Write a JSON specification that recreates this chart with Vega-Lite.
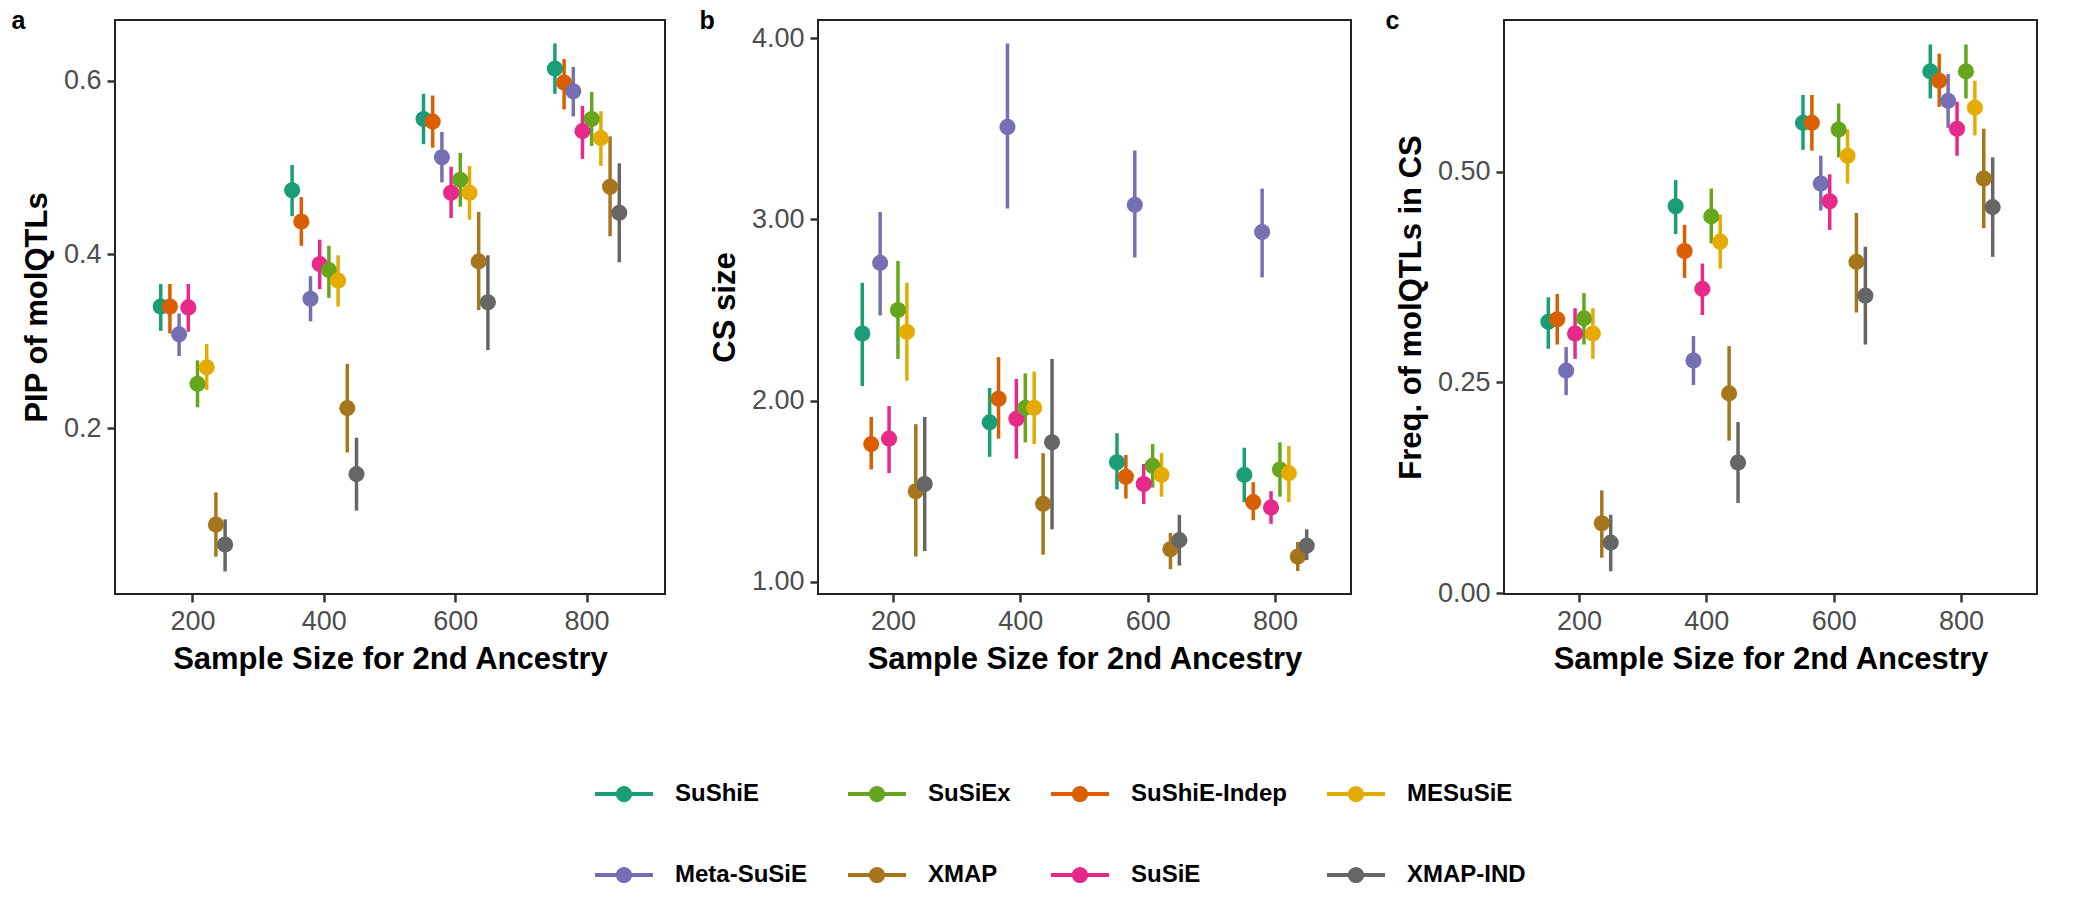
{
  "$schema": "https://vega.github.io/schema/vega-lite/v6.json",
  "background": "white",
  "padding": {"left": 10, "top": 8, "right": 5, "bottom": 5},
  "datasets": {
    "res": [
      {"panel": "a", "n": 200, "method": "SuShiE", "mean": 0.340, "lo": 0.312, "hi": 0.366},
      {"panel": "a", "n": 200, "method": "SuShiE-Indep", "mean": 0.340, "lo": 0.309, "hi": 0.366},
      {"panel": "a", "n": 200, "method": "Meta-SuSiE", "mean": 0.308, "lo": 0.283, "hi": 0.332},
      {"panel": "a", "n": 200, "method": "SuSiE", "mean": 0.339, "lo": 0.311, "hi": 0.366},
      {"panel": "a", "n": 200, "method": "SuSiEx", "mean": 0.251, "lo": 0.224, "hi": 0.278},
      {"panel": "a", "n": 200, "method": "MESuSiE", "mean": 0.270, "lo": 0.244, "hi": 0.297},
      {"panel": "a", "n": 200, "method": "XMAP", "mean": 0.089, "lo": 0.052, "hi": 0.126},
      {"panel": "a", "n": 200, "method": "XMAP-IND", "mean": 0.066, "lo": 0.035, "hi": 0.095},
      {"panel": "a", "n": 400, "method": "SuShiE", "mean": 0.474, "lo": 0.444, "hi": 0.503},
      {"panel": "a", "n": 400, "method": "SuShiE-Indep", "mean": 0.438, "lo": 0.410, "hi": 0.466},
      {"panel": "a", "n": 400, "method": "Meta-SuSiE", "mean": 0.349, "lo": 0.323, "hi": 0.375},
      {"panel": "a", "n": 400, "method": "SuSiE", "mean": 0.389, "lo": 0.360, "hi": 0.417},
      {"panel": "a", "n": 400, "method": "SuSiEx", "mean": 0.382, "lo": 0.350, "hi": 0.410},
      {"panel": "a", "n": 400, "method": "MESuSiE", "mean": 0.370, "lo": 0.340, "hi": 0.399},
      {"panel": "a", "n": 400, "method": "XMAP", "mean": 0.223, "lo": 0.172, "hi": 0.274},
      {"panel": "a", "n": 400, "method": "XMAP-IND", "mean": 0.147, "lo": 0.105, "hi": 0.189},
      {"panel": "a", "n": 600, "method": "SuShiE", "mean": 0.556, "lo": 0.527, "hi": 0.585},
      {"panel": "a", "n": 600, "method": "SuShiE-Indep", "mean": 0.553, "lo": 0.523, "hi": 0.583},
      {"panel": "a", "n": 600, "method": "Meta-SuSiE", "mean": 0.512, "lo": 0.483, "hi": 0.541},
      {"panel": "a", "n": 600, "method": "SuSiE", "mean": 0.471, "lo": 0.442, "hi": 0.501},
      {"panel": "a", "n": 600, "method": "SuSiEx", "mean": 0.486, "lo": 0.455, "hi": 0.517},
      {"panel": "a", "n": 600, "method": "MESuSiE", "mean": 0.471, "lo": 0.440, "hi": 0.502},
      {"panel": "a", "n": 600, "method": "XMAP", "mean": 0.392, "lo": 0.336, "hi": 0.449},
      {"panel": "a", "n": 600, "method": "XMAP-IND", "mean": 0.345, "lo": 0.290, "hi": 0.399},
      {"panel": "a", "n": 800, "method": "SuShiE", "mean": 0.614, "lo": 0.585, "hi": 0.643},
      {"panel": "a", "n": 800, "method": "SuShiE-Indep", "mean": 0.598, "lo": 0.567, "hi": 0.625},
      {"panel": "a", "n": 800, "method": "Meta-SuSiE", "mean": 0.588, "lo": 0.559, "hi": 0.616},
      {"panel": "a", "n": 800, "method": "SuSiE", "mean": 0.542, "lo": 0.510, "hi": 0.571},
      {"panel": "a", "n": 800, "method": "SuSiEx", "mean": 0.556, "lo": 0.525, "hi": 0.587},
      {"panel": "a", "n": 800, "method": "MESuSiE", "mean": 0.534, "lo": 0.502, "hi": 0.565},
      {"panel": "a", "n": 800, "method": "XMAP", "mean": 0.478, "lo": 0.421, "hi": 0.536},
      {"panel": "a", "n": 800, "method": "XMAP-IND", "mean": 0.448, "lo": 0.391, "hi": 0.505},
      {"panel": "b", "n": 200, "method": "SuShiE", "mean": 2.37, "lo": 2.08, "hi": 2.65},
      {"panel": "b", "n": 200, "method": "SuShiE-Indep", "mean": 1.76, "lo": 1.62, "hi": 1.91},
      {"panel": "b", "n": 200, "method": "Meta-SuSiE", "mean": 2.76, "lo": 2.47, "hi": 3.04},
      {"panel": "b", "n": 200, "method": "SuSiE", "mean": 1.79, "lo": 1.60, "hi": 1.97},
      {"panel": "b", "n": 200, "method": "SuSiEx", "mean": 2.50, "lo": 2.23, "hi": 2.77},
      {"panel": "b", "n": 200, "method": "MESuSiE", "mean": 2.38, "lo": 2.11, "hi": 2.65},
      {"panel": "b", "n": 200, "method": "XMAP", "mean": 1.50, "lo": 1.14, "hi": 1.87},
      {"panel": "b", "n": 200, "method": "XMAP-IND", "mean": 1.54, "lo": 1.17, "hi": 1.91},
      {"panel": "b", "n": 400, "method": "SuShiE", "mean": 1.88, "lo": 1.69, "hi": 2.07},
      {"panel": "b", "n": 400, "method": "SuShiE-Indep", "mean": 2.01, "lo": 1.79, "hi": 2.24},
      {"panel": "b", "n": 400, "method": "Meta-SuSiE", "mean": 3.51, "lo": 3.06, "hi": 3.97},
      {"panel": "b", "n": 400, "method": "SuSiE", "mean": 1.90, "lo": 1.68, "hi": 2.12},
      {"panel": "b", "n": 400, "method": "SuSiEx", "mean": 1.96, "lo": 1.77, "hi": 2.15},
      {"panel": "b", "n": 400, "method": "MESuSiE", "mean": 1.96, "lo": 1.76, "hi": 2.16},
      {"panel": "b", "n": 400, "method": "XMAP", "mean": 1.43, "lo": 1.15, "hi": 1.71},
      {"panel": "b", "n": 400, "method": "XMAP-IND", "mean": 1.77, "lo": 1.29, "hi": 2.23},
      {"panel": "b", "n": 600, "method": "SuShiE", "mean": 1.66, "lo": 1.51, "hi": 1.82},
      {"panel": "b", "n": 600, "method": "SuShiE-Indep", "mean": 1.58, "lo": 1.46, "hi": 1.70},
      {"panel": "b", "n": 600, "method": "Meta-SuSiE", "mean": 3.08, "lo": 2.79, "hi": 3.38},
      {"panel": "b", "n": 600, "method": "SuSiE", "mean": 1.54, "lo": 1.43, "hi": 1.65},
      {"panel": "b", "n": 600, "method": "SuSiEx", "mean": 1.64, "lo": 1.52, "hi": 1.76},
      {"panel": "b", "n": 600, "method": "MESuSiE", "mean": 1.59, "lo": 1.47, "hi": 1.71},
      {"panel": "b", "n": 600, "method": "XMAP", "mean": 1.18, "lo": 1.07, "hi": 1.27},
      {"panel": "b", "n": 600, "method": "XMAP-IND", "mean": 1.23, "lo": 1.09, "hi": 1.37},
      {"panel": "b", "n": 800, "method": "SuShiE", "mean": 1.59, "lo": 1.44, "hi": 1.74},
      {"panel": "b", "n": 800, "method": "SuShiE-Indep", "mean": 1.44, "lo": 1.34, "hi": 1.55},
      {"panel": "b", "n": 800, "method": "Meta-SuSiE", "mean": 2.93, "lo": 2.68, "hi": 3.17},
      {"panel": "b", "n": 800, "method": "SuSiE", "mean": 1.41, "lo": 1.32, "hi": 1.50},
      {"panel": "b", "n": 800, "method": "SuSiEx", "mean": 1.62, "lo": 1.47, "hi": 1.77},
      {"panel": "b", "n": 800, "method": "MESuSiE", "mean": 1.60, "lo": 1.44, "hi": 1.75},
      {"panel": "b", "n": 800, "method": "XMAP", "mean": 1.14, "lo": 1.06, "hi": 1.22},
      {"panel": "b", "n": 800, "method": "XMAP-IND", "mean": 1.20, "lo": 1.12, "hi": 1.29},
      {"panel": "c", "n": 200, "method": "SuShiE", "mean": 0.322, "lo": 0.290, "hi": 0.351},
      {"panel": "c", "n": 200, "method": "SuShiE-Indep", "mean": 0.325, "lo": 0.295, "hi": 0.355},
      {"panel": "c", "n": 200, "method": "Meta-SuSiE", "mean": 0.264, "lo": 0.235, "hi": 0.292},
      {"panel": "c", "n": 200, "method": "SuSiE", "mean": 0.308, "lo": 0.278, "hi": 0.338},
      {"panel": "c", "n": 200, "method": "SuSiEx", "mean": 0.326, "lo": 0.295, "hi": 0.356},
      {"panel": "c", "n": 200, "method": "MESuSiE", "mean": 0.308, "lo": 0.278, "hi": 0.338},
      {"panel": "c", "n": 200, "method": "XMAP", "mean": 0.083, "lo": 0.042, "hi": 0.122},
      {"panel": "c", "n": 200, "method": "XMAP-IND", "mean": 0.060, "lo": 0.026, "hi": 0.093},
      {"panel": "c", "n": 400, "method": "SuShiE", "mean": 0.459, "lo": 0.426, "hi": 0.490},
      {"panel": "c", "n": 400, "method": "SuShiE-Indep", "mean": 0.406, "lo": 0.374, "hi": 0.437},
      {"panel": "c", "n": 400, "method": "Meta-SuSiE", "mean": 0.276, "lo": 0.247, "hi": 0.305},
      {"panel": "c", "n": 400, "method": "SuSiE", "mean": 0.361, "lo": 0.330, "hi": 0.391},
      {"panel": "c", "n": 400, "method": "SuSiEx", "mean": 0.447, "lo": 0.415, "hi": 0.480},
      {"panel": "c", "n": 400, "method": "MESuSiE", "mean": 0.417, "lo": 0.385, "hi": 0.449},
      {"panel": "c", "n": 400, "method": "XMAP", "mean": 0.237, "lo": 0.181, "hi": 0.293},
      {"panel": "c", "n": 400, "method": "XMAP-IND", "mean": 0.155, "lo": 0.107, "hi": 0.203},
      {"panel": "c", "n": 600, "method": "SuShiE", "mean": 0.558, "lo": 0.526, "hi": 0.591},
      {"panel": "c", "n": 600, "method": "SuShiE-Indep", "mean": 0.558, "lo": 0.525, "hi": 0.591},
      {"panel": "c", "n": 600, "method": "Meta-SuSiE", "mean": 0.486, "lo": 0.454, "hi": 0.519},
      {"panel": "c", "n": 600, "method": "SuSiE", "mean": 0.465, "lo": 0.431, "hi": 0.497},
      {"panel": "c", "n": 600, "method": "SuSiEx", "mean": 0.550, "lo": 0.517, "hi": 0.581},
      {"panel": "c", "n": 600, "method": "MESuSiE", "mean": 0.519, "lo": 0.486, "hi": 0.550},
      {"panel": "c", "n": 600, "method": "XMAP", "mean": 0.393, "lo": 0.333, "hi": 0.451},
      {"panel": "c", "n": 600, "method": "XMAP-IND", "mean": 0.353, "lo": 0.295, "hi": 0.411},
      {"panel": "c", "n": 800, "method": "SuShiE", "mean": 0.619, "lo": 0.587, "hi": 0.651},
      {"panel": "c", "n": 800, "method": "SuShiE-Indep", "mean": 0.608, "lo": 0.577, "hi": 0.640},
      {"panel": "c", "n": 800, "method": "Meta-SuSiE", "mean": 0.584, "lo": 0.552, "hi": 0.616},
      {"panel": "c", "n": 800, "method": "SuSiE", "mean": 0.551, "lo": 0.519, "hi": 0.583},
      {"panel": "c", "n": 800, "method": "SuSiEx", "mean": 0.619, "lo": 0.587, "hi": 0.651},
      {"panel": "c", "n": 800, "method": "MESuSiE", "mean": 0.576, "lo": 0.543, "hi": 0.608},
      {"panel": "c", "n": 800, "method": "XMAP", "mean": 0.492, "lo": 0.433, "hi": 0.551},
      {"panel": "c", "n": 800, "method": "XMAP-IND", "mean": 0.458, "lo": 0.399, "hi": 0.517}
    ]
  },
  "data": {"name": "res"},
  "spacing": 32,
  "hconcat": [
    {
      "title": {"text": "a"},
      "width": 550,
      "height": 574,
      "transform": [{"filter": "datum.panel === 'a'"}],
      "encoding": {
        "x": {"field": "n", "type": "ordinal", "title": "Sample Size for 2nd Ancestry", "scale": {"paddingInner": 0.3, "paddingOuter": 0.243}},
        "xOffset": {"field": "method", "type": "nominal", "scale": {"domain": ["SuShiE", "SuShiE-Indep", "Meta-SuSiE", "SuSiE", "SuSiEx", "MESuSiE", "XMAP", "XMAP-IND"], "paddingInner": 0, "paddingOuter": 1.26}},
        "color": {"field": "method", "type": "nominal", "scale": {"domain": ["SuShiE", "Meta-SuSiE", "SuSiEx", "XMAP", "SuShiE-Indep", "SuSiE", "MESuSiE", "XMAP-IND"], "range": ["#1B9E77", "#7570B3", "#66A61E", "#A6761D", "#D95F02", "#E7298A", "#E6AB02", "#666666"]}}
      },
      "layer": [
        {"mark": {"type": "rule", "strokeWidth": 3.5}, "encoding": {"y": {"field": "lo", "type": "quantitative", "title": "PIP of molQTLs", "scale": {"domain": [0.009, 0.67], "nice": false, "zero": false}, "axis": {"values": [0.2, 0.4, 0.6], "format": ".1f"}}, "y2": {"field": "hi"}}},
        {"mark": {"type": "point", "filled": true, "size": 260, "opacity": 1}, "encoding": {"y": {"field": "mean", "type": "quantitative"}}}
      ]
    },
    {
      "title": {"text": "b"},
      "width": 533,
      "height": 574,
      "transform": [{"filter": "datum.panel === 'b'"}],
      "encoding": {
        "x": {"field": "n", "type": "ordinal", "title": "Sample Size for 2nd Ancestry", "scale": {"paddingInner": 0.3, "paddingOuter": 0.243}},
        "xOffset": {"field": "method", "type": "nominal", "scale": {"domain": ["SuShiE", "SuShiE-Indep", "Meta-SuSiE", "SuSiE", "SuSiEx", "MESuSiE", "XMAP", "XMAP-IND"], "paddingInner": 0, "paddingOuter": 1.26}},
        "color": {"field": "method", "type": "nominal", "scale": {"domain": ["SuShiE", "Meta-SuSiE", "SuSiEx", "XMAP", "SuShiE-Indep", "SuSiE", "MESuSiE", "XMAP-IND"], "range": ["#1B9E77", "#7570B3", "#66A61E", "#A6761D", "#D95F02", "#E7298A", "#E6AB02", "#666666"]}}
      },
      "layer": [
        {"mark": {"type": "rule", "strokeWidth": 3.5}, "encoding": {"y": {"field": "lo", "type": "quantitative", "title": "CS size", "scale": {"domain": [0.933, 4.1], "nice": false, "zero": false}, "axis": {"values": [1, 2, 3, 4], "format": ".2f"}}, "y2": {"field": "hi"}}},
        {"mark": {"type": "point", "filled": true, "size": 260, "opacity": 1}, "encoding": {"y": {"field": "mean", "type": "quantitative"}}}
      ]
    },
    {
      "title": {"text": "c"},
      "width": 533,
      "height": 574,
      "transform": [{"filter": "datum.panel === 'c'"}],
      "encoding": {
        "x": {"field": "n", "type": "ordinal", "title": "Sample Size for 2nd Ancestry", "scale": {"paddingInner": 0.3, "paddingOuter": 0.243}},
        "xOffset": {"field": "method", "type": "nominal", "scale": {"domain": ["SuShiE", "SuShiE-Indep", "Meta-SuSiE", "SuSiE", "SuSiEx", "MESuSiE", "XMAP", "XMAP-IND"], "paddingInner": 0, "paddingOuter": 1.26}},
        "color": {"field": "method", "type": "nominal", "scale": {"domain": ["SuShiE", "Meta-SuSiE", "SuSiEx", "XMAP", "SuShiE-Indep", "SuSiE", "MESuSiE", "XMAP-IND"], "range": ["#1B9E77", "#7570B3", "#66A61E", "#A6761D", "#D95F02", "#E7298A", "#E6AB02", "#666666"]}}
      },
      "layer": [
        {"mark": {"type": "rule", "strokeWidth": 3.5}, "encoding": {"y": {"field": "lo", "type": "quantitative", "title": "Freq. of molQTLs in CS", "scale": {"domain": [-0.001, 0.68], "nice": false, "zero": false}, "axis": {"values": [0, 0.25, 0.5], "format": ".2f"}}, "y2": {"field": "hi"}}},
        {"mark": {"type": "point", "filled": true, "size": 260, "opacity": 1}, "encoding": {"y": {"field": "mean", "type": "quantitative"}}}
      ]
    }
  ],
  "resolve": {"scale": {"y": "independent", "x": "independent", "xOffset": "independent"}},
  "config": {
    "font": "Liberation Sans",
    "view": {"stroke": "#222", "strokeWidth": 2},
    "title": {"anchor": "start", "frame": "bounds", "fontSize": 25, "fontWeight": "bold", "offset": -14, "dx": -10, "color": "black"},
    "axis": {
      "grid": false,
      "domain": false,
      "tickSize": 8,
      "tickWidth": 2.5,
      "tickColor": "#333",
      "labelColor": "#4d4d4d",
      "labelFontSize": 27,
      "labelPadding": 6,
      "labelAngle": 0,
      "titleFontSize": 31,
      "titleFontWeight": "bold",
      "titleColor": "black",
      "titlePadding": 10
    },
    "legend": {
      "orient": "none",
      "legendX": 480,
      "legendY": 745,
      "columns": 4,
      "title": null,
      "labelFontSize": 24,
      "labelFontWeight": "bold",
      "labelColor": "black",
      "symbolType": "M-1,-0.07H1V0.07H-1Z M0.28,0A0.28,0.28,0,1,1,-0.28,0A0.28,0.28,0,1,1,0.28,0Z",
      "symbolSize": 3364,
      "symbolStrokeWidth": 0,
      "symbolOpacity": 1,
      "rowPadding": 40,
      "columnPadding": 40,
      "labelOffset": 22
    }
  }
}
